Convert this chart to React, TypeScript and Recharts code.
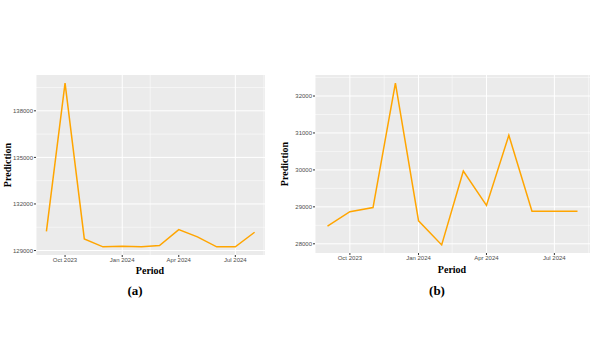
import React from 'react';
import { LineChart, Line, XAxis, YAxis, CartesianGrid } from 'recharts';

// monthly periods, Sep 2023 .. Aug 2024
const months: [number, number][] = [
  [2023, 8], [2023, 9], [2023, 10], [2023, 11],
  [2024, 0], [2024, 1], [2024, 2], [2024, 3],
  [2024, 4], [2024, 5], [2024, 6], [2024, 7],
];

const predictionA = [
  130240, 139780, 129750, 129240, 129280, 129240,
  129320, 130350, 129880, 129240, 129240, 130180,
];
const predictionB = [
  28480, 28870, 28980, 32350, 28620, 27970,
  29970, 29040, 30940, 28880, 28880, 28880,
];

const xTickMonths: [number, number][] = [[2023, 9], [2024, 0], [2024, 3], [2024, 6]];
const xMinorMonths: [number, number, number][] = [[2023, 7, 16], [2023, 10, 16], [2024, 1, 15], [2024, 4, 16], [2024, 7, 16]];
const yTicksA = [129000, 132000, 135000, 138000];
const yMinorA = [130500, 133500, 136500, 139500];
const yTicksB = [28000, 29000, 30000, 31000, 32000];
const yMinorB = [28500, 29500, 30500, 31500, 32500];

const monthNames = ['Jan', 'Feb', 'Mar', 'Apr', 'May', 'Jun', 'Jul', 'Aug', 'Sep', 'Oct', 'Nov', 'Dec'];

const ts = (y: number, m: number, d = 1) => Date.UTC(y, m, d);
const fmtDate = (v: number) => {
  const d = new Date(v);
  return `${monthNames[d.getUTCMonth()]} ${d.getUTCFullYear()}`;
};

// ggplot style 5% expansion
const expand = (vals: number[]): [number, number] => {
  const lo = Math.min(...vals);
  const hi = Math.max(...vals);
  const pad = (hi - lo) * 0.05;
  return [lo - pad, hi + pad];
};

const xs = months.map(([y, m]) => ts(y, m));
const xDomain = expand(xs);
const xTicks = xTickMonths.map(([y, m]) => ts(y, m));
const xMinor = xMinorMonths.map(([y, m, d]) => ts(y, m, d));

const dataA = xs.map((t, i) => ({ t, v: predictionA[i] }));
const dataB = xs.map((t, i) => ({ t, v: predictionB[i] }));

const tickStyle = { fontSize: 6, fill: '#4D4D4D', fontFamily: 'Liberation Sans, Arial, sans-serif' };
const titleStyle: React.CSSProperties = {
  position: 'absolute',
  fontFamily: '"Liberation Serif", "Times New Roman", serif',
  fontWeight: 'bold',
  color: '#000',
  whiteSpace: 'nowrap',
  lineHeight: 1,
};

interface PanelProps {
  data: { t: number; v: number }[];
  width: number;
  yWidth: number;
  right: number;
  bottom: number;
  yTicks: number[];
  yMinor: number[];
}

function Panel({ data, width, yWidth, right, bottom, yTicks, yMinor }: PanelProps) {
  const yDomain = expand(data.map((d) => d.v));
  return (
    <LineChart width={width} height={350} data={data} margin={{ top: 75, right, bottom, left: 0 }}>
      <CartesianGrid
        fill="#EBEBEB"
        stroke="#FFFFFF"
        strokeWidth={0.5}
        horizontalValues={yMinor}
        verticalValues={xMinor}
      />
      <CartesianGrid
        stroke="#FFFFFF"
        strokeWidth={1}
        horizontalValues={yTicks}
        verticalValues={xTicks}
      />
      <XAxis
        dataKey="t"
        type="number"
        scale="linear"
        domain={xDomain}
        ticks={xTicks}
        tickFormatter={fmtDate}
        tick={tickStyle}
        tickSize={2}
        tickMargin={1}
        axisLine={false}
        tickLine={{ stroke: '#333333' }}
        height={20}
        allowDataOverflow
      />
      <YAxis
        type="number"
        domain={yDomain}
        ticks={yTicks}
        tick={tickStyle}
        tickSize={2}
        tickMargin={1}
        axisLine={false}
        tickLine={{ stroke: '#333333' }}
        width={yWidth}
        allowDataOverflow
      />
      <Line
        type="linear"
        dataKey="v"
        stroke="#FFA500"
        strokeWidth={1.5}
        dot={false}
        isAnimationActive={false}
      />
    </LineChart>
  );
}

export default function App() {
  return (
    <div style={{ position: 'absolute', left: 0, top: 0, width: 600, height: 350, background: '#fff', overflow: 'hidden' }}>
      <div style={{ position: 'absolute', left: 0, top: 0 }}>
        <Panel data={dataA} width={300} yWidth={36} right={35} bottom={75} yTicks={yTicksA} yMinor={yMinorA} />
      </div>
      <div style={{ position: 'absolute', left: 270, top: 0 }}>
        <Panel data={dataB} width={330} yWidth={45} right={10} bottom={77} yTicks={yTicksB} yMinor={yMinorB} />
      </div>

      <div style={{ ...titleStyle, fontSize: 10, left: 8, top: 165, transform: 'translate(-50%, -50%) rotate(-90deg)' }}>Prediction</div>
      <div style={{ ...titleStyle, fontSize: 10, left: 285, top: 164, transform: 'translate(-50%, -50%) rotate(-90deg)' }}>Prediction</div>

      <div style={{ ...titleStyle, fontSize: 10, left: 150, top: 271, transform: 'translate(-50%, -50%)' }}>Period</div>
      <div style={{ ...titleStyle, fontSize: 10, left: 452, top: 270, transform: 'translate(-50%, -50%)' }}>Period</div>

      <div style={{ ...titleStyle, fontSize: 13, left: 135, top: 290, transform: 'translate(-50%, -50%)' }}>(a)</div>
      <div style={{ ...titleStyle, fontSize: 13, left: 437, top: 290, transform: 'translate(-50%, -50%)' }}>(b)</div>
    </div>
  );
}
